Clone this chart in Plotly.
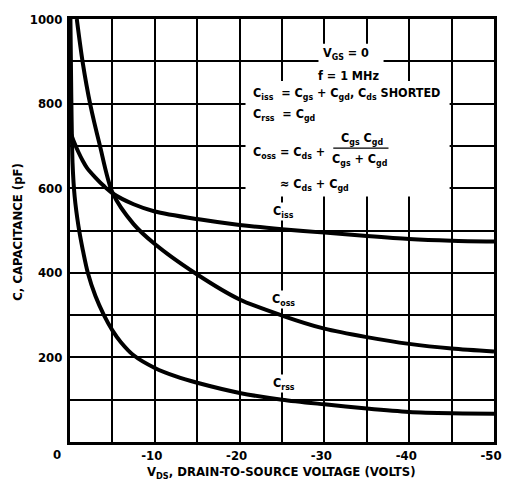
import plotly.graph_objects as go

# ---- data ----
vds_ciss = [0, -0.5, -1, -1.5, -2, -3, -4, -5, -7.5, -10, -15, -20, -25, -30, -35, -40, -45, -50]
ciss = [735, 708, 685, 665, 648, 625, 605, 588, 562, 545, 527, 513, 503, 495, 487, 480, 476, 474]

vds_coss = [-0.8, -1.5, -2.4, -3.5, -5, -7.5, -10, -15, -20, -25, -30, -35, -40, -45, -50]
coss = [1000, 897, 797, 703, 590, 515, 468, 396, 337, 299, 268, 248, 232, 221, 214]

vds_crss = [-0.05, -0.15, -0.3, -0.55, -1, -1.5, -2.1, -3, -4, -5, -6, -7.5, -10, -12.5, -15, -20, -25, -30, -35, -40, -45, -50]
crss = [1000, 820, 660, 580, 510, 455, 400, 345, 300, 264, 236, 205, 175, 155, 140, 116, 100, 89, 79, 71, 68, 67]

x_tick_vals = [-10, -20, -30, -40, -50]
x_tick_text = ["-10", "-20", "-30", "-40", "-50"]
y_tick_vals = [200, 400, 600, 800, 1000]
y_tick_text = ["200", "400", "600", "800", "1000"]

FONT = "DejaVu Sans Condensed, Roboto, Liberation Sans, sans-serif"
W, H = 514, 487
L, R, T, B = 70, 14, 13, 45
PW, PH = W - L - R, H - T - B


def px(x):
    return (x - L) / PW


def py(y):
    return (H - B - y) / PH


fig = go.Figure()
for xs, ys, name in [(vds_ciss, ciss, "Ciss"), (vds_coss, coss, "Coss"), (vds_crss, crss, "Crss")]:
    fig.add_trace(go.Scatter(x=xs, y=ys, mode="lines", name=name,
                             line=dict(color="black", width=4, shape="spline", smoothing=0.8),
                             showlegend=False, hoverinfo="skip"))

tick_font = dict(family=FONT, size=13, color="black", weight="bold")
fig.update_xaxes(range=[0, -50], tickvals=x_tick_vals, ticktext=x_tick_text,
                 showline=True, linecolor="black", linewidth=3, mirror=True,
                 ticks="", zeroline=False, showgrid=True, gridcolor="black", gridwidth=1.5,
                 minor=dict(tickvals=[-5, -15, -25, -35, -45], showgrid=True,
                            gridcolor="black", gridwidth=1.5, ticks=""),
                 ticklabelstandoff=-1, ticklabelshift=3,
                 tickfont=tick_font)
fig.update_yaxes(range=[0, 1000], tickvals=y_tick_vals, ticktext=y_tick_text,
                 showline=True, linecolor="black", linewidth=3, mirror=True,
                 ticks="", zeroline=False, showgrid=True, gridcolor="black", gridwidth=1.5,
                 minor=dict(tickvals=[100, 300, 500, 700, 900], showgrid=True,
                            gridcolor="black", gridwidth=1.5, ticks=""),
                 ticklabelstandoff=2,
                 tickfont=tick_font)

# white knock-out area behind the formula block
fig.add_shape(type="rect", xref="paper", yref="paper",
              x0=px(248), x1=px(455), y0=py(193), y1=py(76),
              fillcolor="white", line=dict(width=0), layer="above")
fig.add_shape(type="rect", xref="paper", yref="paper",
              x0=px(322), x1=px(388), y0=py(80), y1=py(38),
              fillcolor="white", line=dict(width=0), layer="above")
# fraction bar
fig.add_shape(type="line", xref="paper", yref="paper",
              x0=px(337), x1=px(393), y0=py(144), y1=py(144),
              line=dict(color="black", width=1.3), layer="above")

tf = dict(family=FONT, size=12.5, color="black", weight="bold")


def ann(text, x, y, bg=None, **kw):
    d = dict(text=text, x=px(x), y=py(y), xref="paper", yref="paper",
             showarrow=False, font=tf, xanchor="center", yanchor="middle", borderpad=0)
    if bg:
        d["bgcolor"] = bg
    d.update(kw)
    fig.add_annotation(**d)


ann("V<sub>GS</sub> = 0", 350, 48, bg="white")
ann("f = 1 MHz", 352, 70, bg="white")
ann("C<sub>iss</sub>  = C<sub>gs</sub> + C<sub>gd</sub>, C<sub>ds</sub> SHORTED", 255, 89, xanchor="left")
ann("C<sub>rss</sub>  = C<sub>gd</sub>", 255, 110, xanchor="left")
ann("C<sub>oss</sub> = C<sub>ds</sub> +", 255, 148, xanchor="left")
ann("C<sub>gs</sub> C<sub>gd</sub>", 366, 134)
ann("C<sub>gs</sub> + C<sub>gd</sub>", 364, 155)
ann("\u2248 C<sub>ds</sub> + C<sub>gd</sub>", 318, 181)

ann("C<sub>iss</sub>", 287, 208, bg="white")
ann("C<sub>oss</sub>", 287, 297, bg="white")
ann("C<sub>rss</sub>", 287, 383, bg="white")

# corner zero, axis titles
ann("0", 57, 455, font=tick_font)
ann("V<sub>DS</sub>, DRAIN-TO-SOURCE VOLTAGE (VOLTS)", 284, 473, font=tick_font)
ann("C, CAPACITANCE (pF)", 17, 229, textangle=-90, font=tick_font)

fig.update_layout(width=W, height=H, margin=dict(l=L, r=R, t=T, b=B),
                  paper_bgcolor="white", plot_bgcolor="white",
                  font=dict(family=FONT, color="black"))

fig.write_html("out.html", config={"displayModeBar": False},
               post_script="document.body.style.margin='0';document.body.style.padding='0';")
